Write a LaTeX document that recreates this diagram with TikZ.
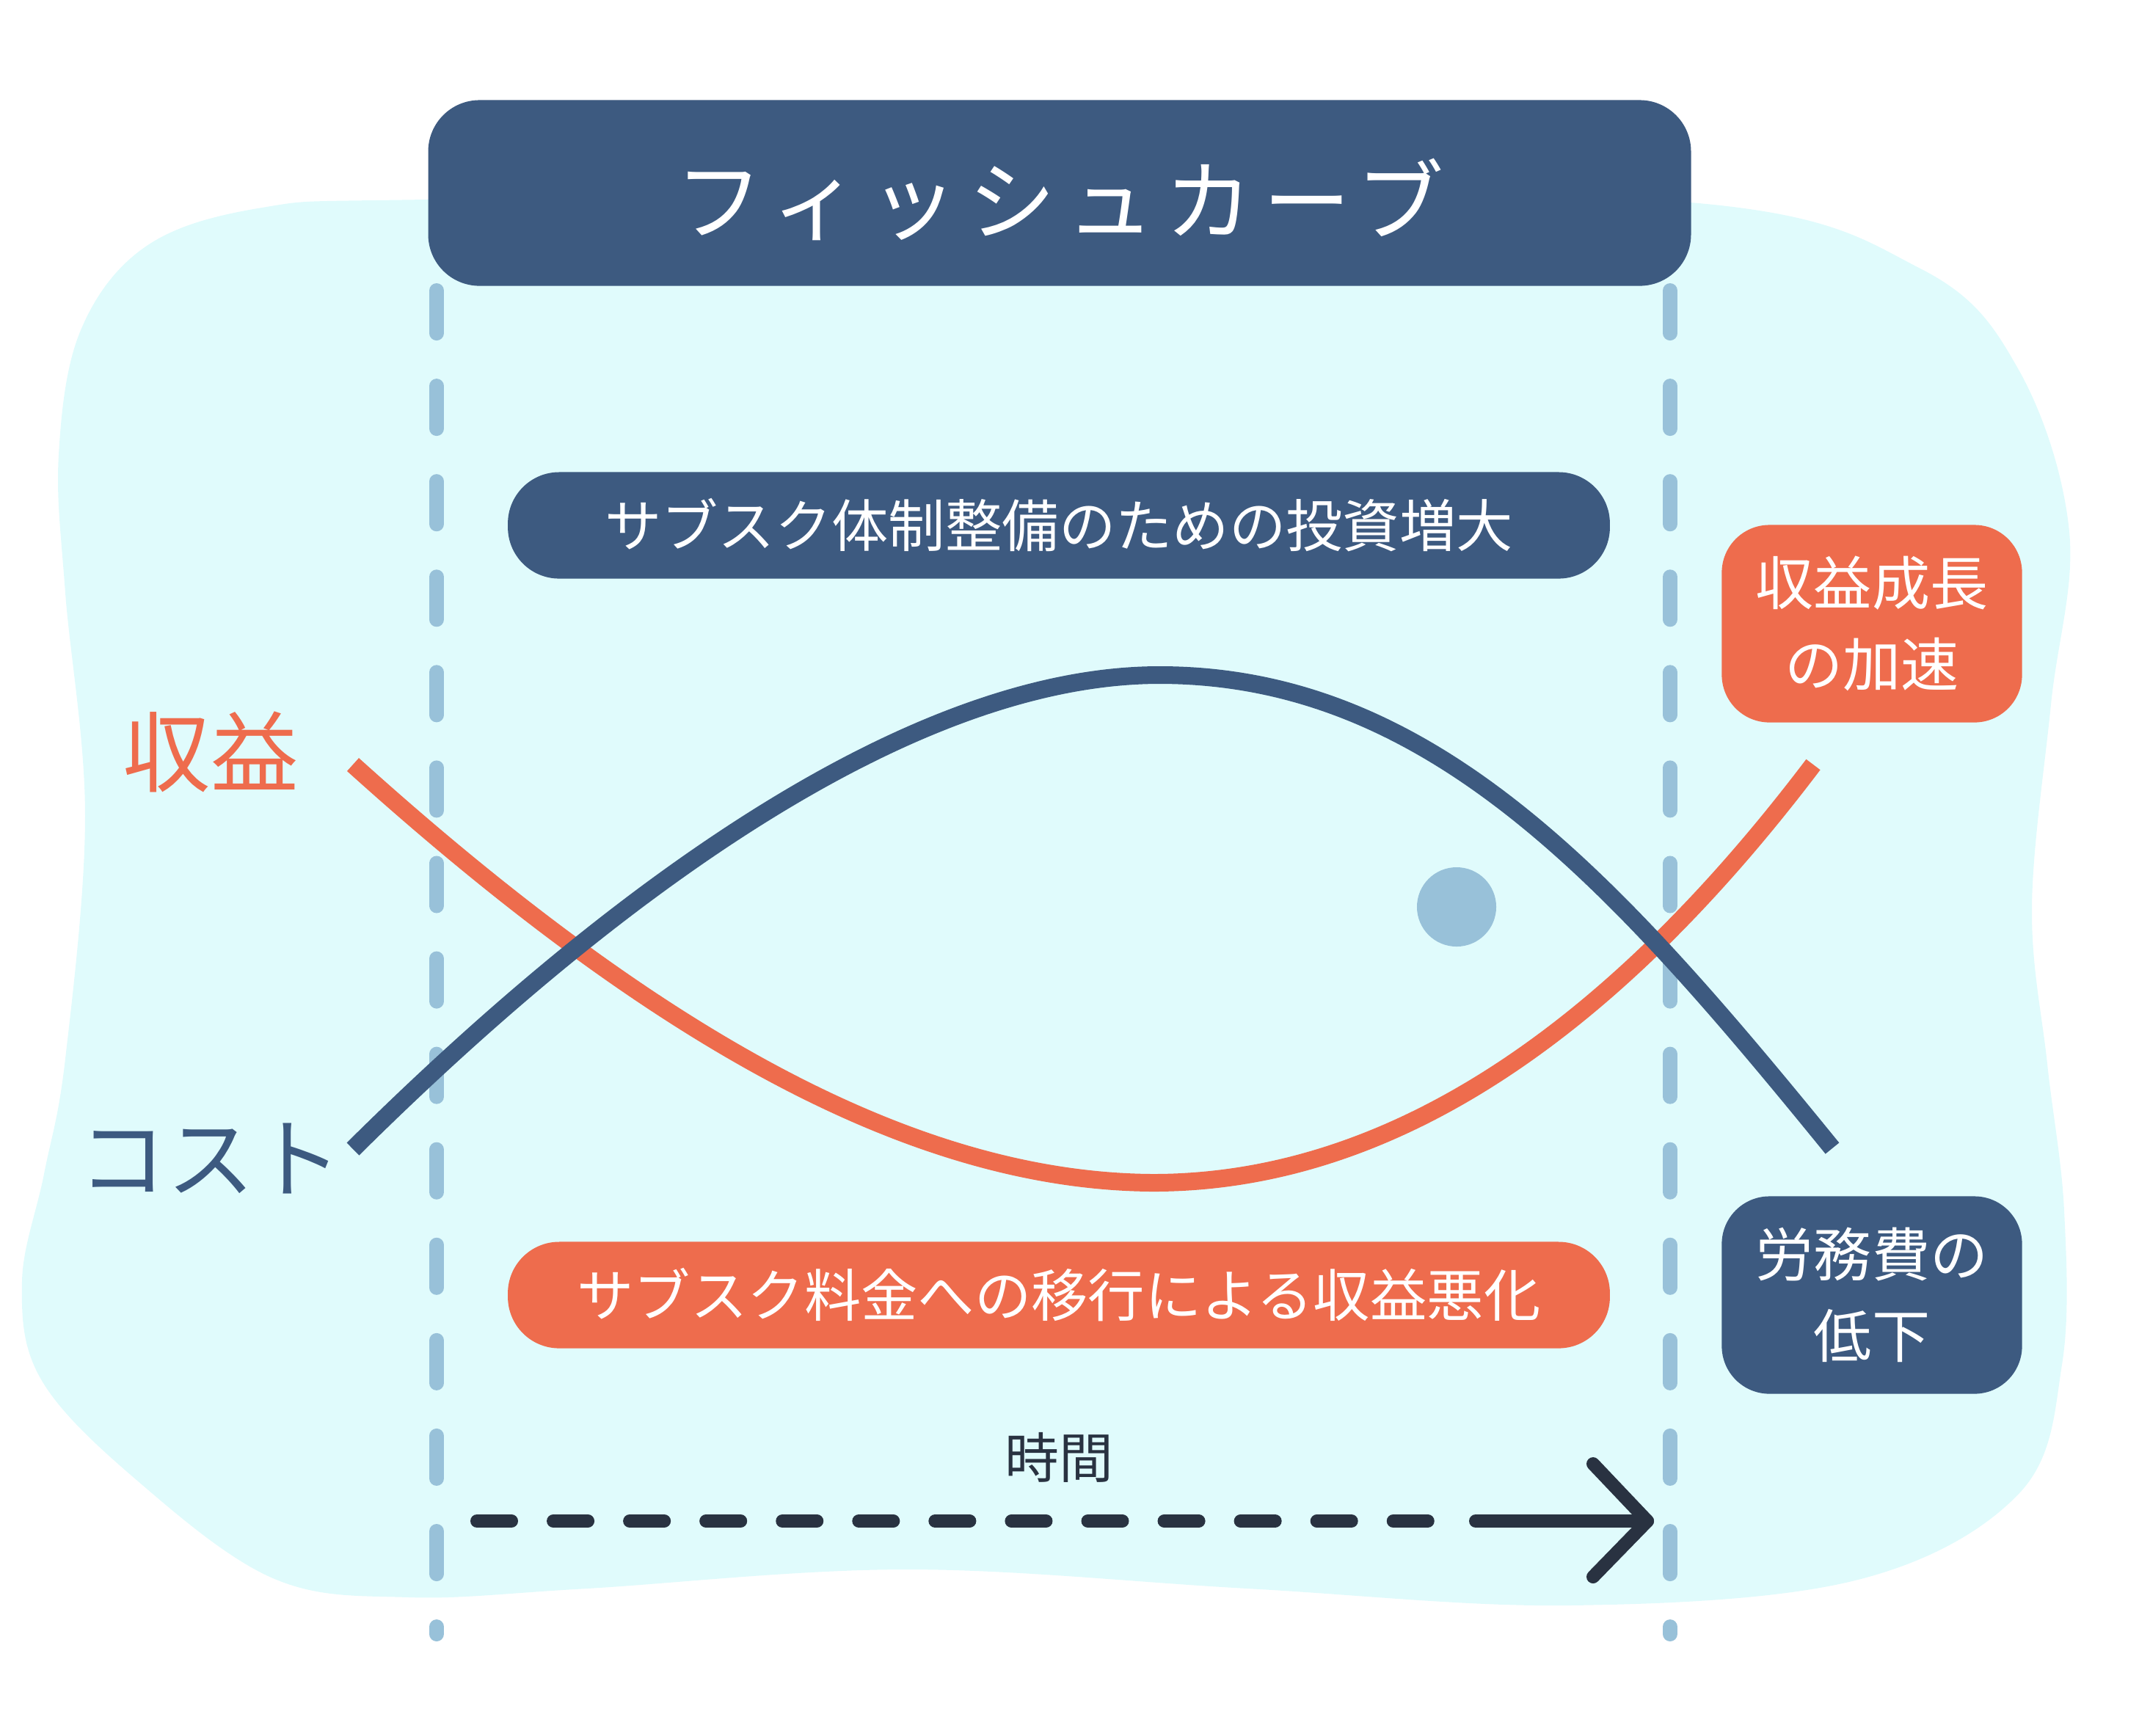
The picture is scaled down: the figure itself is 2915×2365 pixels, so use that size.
\documentclass[tikz,border=0pt]{standalone}
\usepackage{fontspec}
\setmainfont{Noto Sans CJK JP}
\usepackage{tikz}
\usetikzlibrary{positioning, calc}
\definecolor{fishblue}{HTML}{3D5A80}
\definecolor{fishorange}{HTML}{EE6C4D}
\definecolor{fishsky}{HTML}{98C1D9}
\definecolor{fishbg}{HTML}{E0FBFC}
\definecolor{fishink}{HTML}{293241}

\begin{document}
\begin{tikzpicture}[x=0.01cm, y=-0.01cm,
    pill/.style={fill=#1, rounded corners=0.7cm, minimum width=15.01cm, minimum height=1.45cm,
        text=white, inner sep=0pt, font=\fontsize{22}{31}\selectfont},
    sidebox/.style={fill=#1, rounded corners=0.65cm, minimum width=4.09cm, minimum height=2.69cm,
        text=white, align=center, inner sep=0pt, font=\fontsize{22.5}{31.5}\selectfont},
    guide/.style={fishsky, line width=0.2cm, line cap=round, dash pattern=on 0.58cm off 0.72cm},
    curve/.style={line width=0.24cm}]

        \useasboundingbox (0,0) rectangle (2915,2365);

        % ===================================================
        % Background blob
        % ===================================================
        \fill[fishbg] plot[smooth cycle, tension=0.6] coordinates {
            (580,272) (1444,266) (2304,276) (2617,366) (2751,504) (2820,725)
            (2795,960) (2769,1236) (2790,1450) (2813,1650) (2810,1860) (2751,2036)
            (2528,2154) (2138,2188) (1700,2165) (1236,2139) (800,2165) (558,2177)
            (372,2151) (186,2017) (56,1880) (30,1747) (60,1600) (89,1443)
            (116,1112) (89,808) (80,620) (110,450) (200,335) (357,283)};

        % ===================================================
        % Guides and title
        % ===================================================
        \draw[guide] (595,396) -- (595,2227);
        \draw[guide] (2276,396) -- (2276,2227);

        \node[fill=fishblue, rounded corners=0.7cm, minimum width=17.2cm, minimum height=2.53cm,
            text=white, font=\fontsize{34}{40}\selectfont\addfontfeature{LetterSpace=12}]
            (title) at (1444,263) {\raisebox{-0.09cm}[\height][\depth]{フィッシュカーブ}};

        % ===================================================
        % Curves
        % ===================================================
        \coordinate (R0) at (481,1042);
        \coordinate (Rmin) at (1571,1612);
        \coordinate (R1) at (2471,1042);
        \coordinate (C0) at (481,1566);
        \coordinate (Cmax) at (1580,920);
        \coordinate (C1) at (2497,1565);

        \draw[curve, fishorange] (R0) .. controls (900,1420) and (1250,1610) .. (Rmin)
            .. controls (1900,1612) and (2200,1400) .. (R1);
        \draw[curve, fishblue] (C0) .. controls (850,1200) and (1250,920) .. (Cmax)
            .. controls (1950,920) and (2200,1200) .. (C1);

        \fill[fishsky] (1985,1236) circle (0.54cm);

        % ===================================================
        % Text boxes
        % ===================================================
        \node[pill=fishblue] (invest) at (1443,716) {サブスク体制整備のための投資増大};
        \node[pill=fishorange] (revloss) at (1443,1765) {サブスク料金への移行による収益悪化};
        \node[sidebox=fishorange] (revgrow) at (2551,850) {収益成長\\の加速};
        \node[sidebox=fishblue] (costdown) at (2551,1765) {労務費の\\低下};

        \node[text=fishorange, font=\fontsize{34}{40}\selectfont] (revlabel) at (287,1025) {収益};
        \node[text=fishblue, font=\fontsize{34}{40}\selectfont] (costlabel) at (287,1579) {コスト};

        % ===================================================
        % Time arrow
        % ===================================================
        \node[text=fishink, font=\fontsize{21}{26}\selectfont] (timelabel) at (1443,1986) {時間};

        \coordinate (T0) at (650,2073);
        \coordinate (T1) at (2011,2073);
        \coordinate (Tip) at (2245,2073);
        \coordinate (Ta) at (2171,1995);
        \coordinate (Tb) at (2171,2149);

        \draw[fishink, line width=0.18cm, line cap=round, dash pattern=on 0.47cm off 0.57cm] (T0) -- (1960,2073);
        \draw[fishink, line width=0.18cm, line cap=round, line join=round] (T1) -- (Tip);
        \draw[fishink, line width=0.18cm, line cap=round, line join=round] (Ta) -- (Tip) -- (Tb);

    \end{tikzpicture}
\end{document}
